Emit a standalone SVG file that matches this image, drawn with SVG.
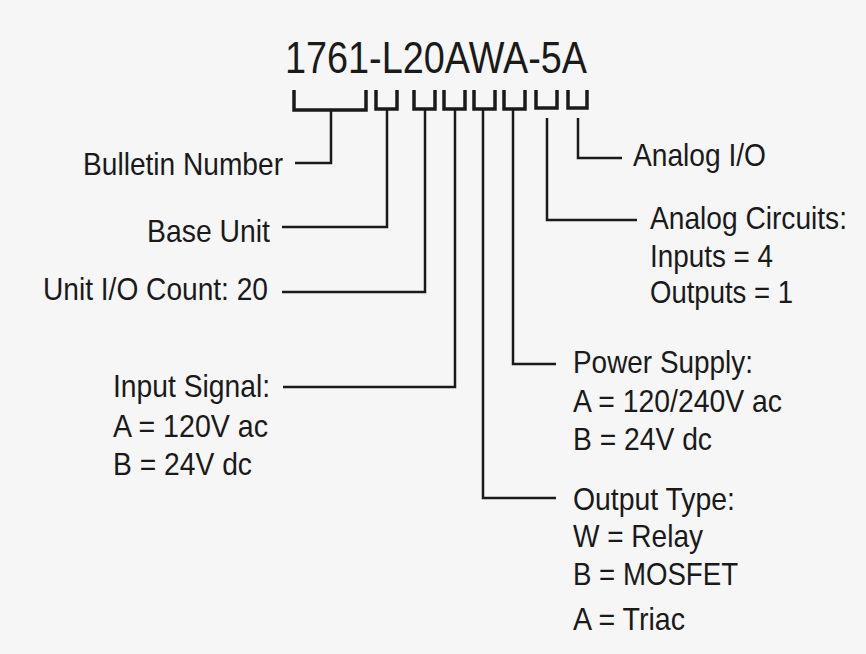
<svg xmlns="http://www.w3.org/2000/svg" width="866" height="654" viewBox="0 0 866 654">
<style>
.t{font-family:"Liberation Sans Narrow","Liberation Sans",Arial,sans-serif;font-size:32px;fill:#1a1a1a}
.title{font-size:44px}
.br{fill:none;stroke:#1a1a1a;stroke-width:3.5;stroke-linejoin:miter}
.ln{fill:none;stroke:#1a1a1a;stroke-width:2.5}
</style>
<rect width="866" height="654" fill="#f6f6f6"/>
<g id="title">
<text class="t title" x="285" y="73" textLength="302" lengthAdjust="spacingAndGlyphs">1761-L20AWA-5A</text>
<path class="br" d="M294,90V110H366V90"/>
<path class="br" d="M376,90V109H397V90"/>
<path class="br" d="M414,90V109H435V90"/>
<path class="br" d="M444,90V109H465V90"/>
<path class="br" d="M474,90V109H495V90"/>
<path class="br" d="M504,90V109H525V90"/>
<path class="br" d="M536,90V108H557V90"/>
<path class="br" d="M568,90V108H587V90"/>
</g>
<g id="connectors">
<path class="ln" d="M331,111V163H295"/>
<path class="ln" d="M387,110V227H282"/>
<path class="ln" d="M425,110V292H282"/>
<path class="ln" d="M455,110V387H283"/>
<path class="ln" d="M483,110V498H556"/>
<path class="ln" d="M513,110V364H556"/>
<path class="ln" d="M547,118V220H637"/>
<path class="ln" d="M578,118V158H622"/>
</g>
<g id="bulletin"><text class="t" x="83" y="175" textLength="200" lengthAdjust="spacingAndGlyphs">Bulletin Number</text></g>
<g id="base"><text class="t" x="147" y="242" textLength="123" lengthAdjust="spacingAndGlyphs">Base Unit</text></g>
<g id="count"><text class="t" x="43" y="300" textLength="225" lengthAdjust="spacingAndGlyphs">Unit I/O Count: 20</text></g>
<g id="input">
<text class="t" x="113" y="397" textLength="157" lengthAdjust="spacingAndGlyphs">Input Signal:</text>
<text class="t" x="113" y="437" textLength="155" lengthAdjust="spacingAndGlyphs">A = 120V ac</text>
<text class="t" x="113" y="475" textLength="139" lengthAdjust="spacingAndGlyphs">B = 24V dc</text>
</g>
<g id="power">
<text class="t" x="573" y="373" textLength="180" lengthAdjust="spacingAndGlyphs">Power Supply:</text>
<text class="t" x="573" y="412" textLength="209" lengthAdjust="spacingAndGlyphs">A = 120/240V ac</text>
<text class="t" x="573" y="450" textLength="139" lengthAdjust="spacingAndGlyphs">B = 24V dc</text>
</g>
<g id="output">
<text class="t" x="573" y="510" textLength="162" lengthAdjust="spacingAndGlyphs">Output Type:</text>
<text class="t" x="573" y="547" textLength="130" lengthAdjust="spacingAndGlyphs">W = Relay</text>
<text class="t" x="573" y="585" textLength="165" lengthAdjust="spacingAndGlyphs">B = MOSFET</text>
<text class="t" x="573" y="630" textLength="112" lengthAdjust="spacingAndGlyphs">A = Triac</text>
</g>
<g id="analogio"><text class="t" x="633" y="166" textLength="133" lengthAdjust="spacingAndGlyphs">Analog I/O</text></g>
<g id="analogcircuits">
<text class="t" x="650" y="229" textLength="197" lengthAdjust="spacingAndGlyphs">Analog Circuits:</text>
<text class="t" x="650" y="267" textLength="123" lengthAdjust="spacingAndGlyphs">Inputs = 4</text>
<text class="t" x="650" y="303" textLength="143" lengthAdjust="spacingAndGlyphs">Outputs = 1</text>
</g>
</svg>
